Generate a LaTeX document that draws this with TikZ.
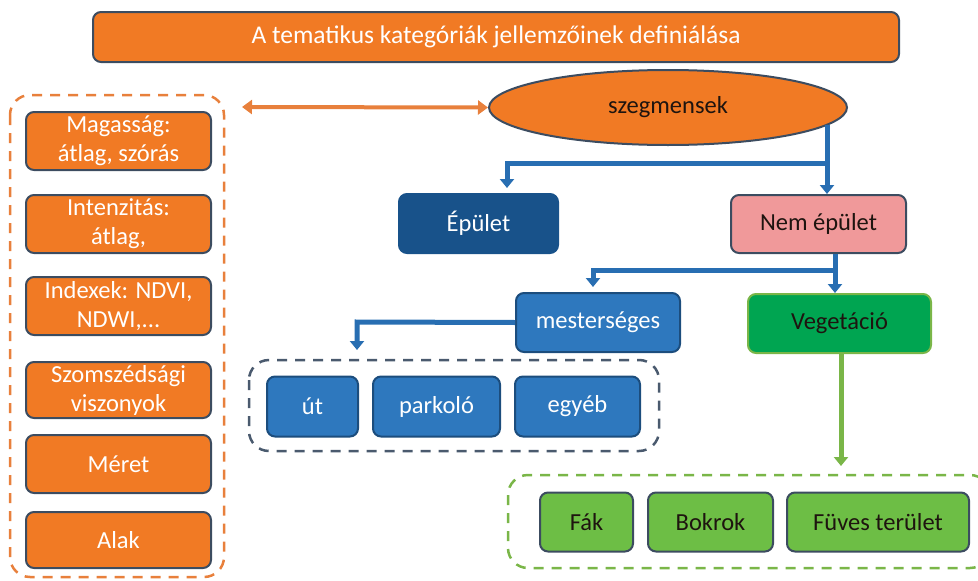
\documentclass[tikz,border=0pt]{standalone}
\usepackage{fontspec}
\setmainfont{Carlito}
\usetikzlibrary{arrows.meta,shapes.geometric}
\definecolor{orng}{RGB}{241,122,36}
\definecolor{orngdash}{RGB}{232,128,60}
\definecolor{slate}{RGB}{60,76,96}
\definecolor{navy}{RGB}{24,82,138}
\definecolor{midblue}{RGB}{46,120,190}
\definecolor{linkblue}{RGB}{40,110,178}
\definecolor{pinkfill}{RGB}{240,153,154}
\definecolor{vegfill}{RGB}{0,165,81}
\definecolor{lgreen}{RGB}{109,190,69}
\definecolor{gdash}{RGB}{122,182,72}
\definecolor{bdash}{RGB}{74,90,110}
\definecolor{darktext}{RGB}{30,20,15}
\begin{document}
\begin{tikzpicture}[x=1pt,y=-1pt,
  every node/.style={font=\fontsize{24.5}{29}\selectfont, align=center, inner sep=0pt},
  box/.style={rectangle, rounded corners=8pt, line width=2pt},
  obox/.style={box, fill=orng, draw=slate, text=white, minimum width=185pt},
  bbox/.style={box, fill=midblue, draw=linkblue!70!black, text=white},
  gbox/.style={box, fill=lgreen, draw=slate, text=darktext},
  link/.style={draw=linkblue, line width=5pt, -{Triangle[width=14pt,length=9pt]}},
  container/.style={dashed, line width=2.5pt, rounded corners=20pt, dash pattern=on 10pt off 8pt}]
\useasboundingbox (0,0) rectangle (978,581);
\clip (0,0) rectangle (978,581);

% title
\node[box, fill=orng, draw=slate, text=white, minimum width=806pt, minimum height=50pt,
  font=\fontsize{25.5}{27}\selectfont] (title) at (496,37) {A tematikus kategóriák jellemzőinek definiálása};

% left container
\draw[container, draw=orngdash] (10,95) rectangle (224,577);
\node[obox, minimum height=58pt] (m1) at (118.5,141) {Magasság:\\átlag, szórás};
\node[obox, minimum height=58pt] (m2) at (118.5,224) {Intenzitás:\\átlag,};
\node[obox, minimum height=58pt] (m3) at (118.5,306) {Indexek: NDVI,\\NDWI,...};
\node[obox, minimum height=56pt] (m4) at (118.5,390) {Szomszédsági\\viszonyok};
\node[obox, minimum height=58pt] (m5) at (118.5,464) {Méret};
\node[obox, minimum height=56pt] (m6) at (118.5,540) {Alak};

% ellipse
\node[ellipse, fill=orng, draw=slate, line width=2pt, minimum width=358pt, minimum height=75pt, text=darktext] (seg) at (668,107.5) {szegmensek};
\coordinate (la) at (242,107);
\draw[draw=orngdash, line width=4pt, {Triangle[width=14pt,length=10pt]}-{Triangle[width=14pt,length=10pt]}] (la) -- (seg.west);

% level 1
\node[box, fill=navy, draw=navy, text=white, minimum width=159pt, minimum height=59pt] (epu) at (478.5,223.5) {Épület};
\node[box, fill=pinkfill, draw=slate, text=darktext, minimum width=175pt, minimum height=58pt] (nem) at (818.5,224) {Nem épület};
\coordinate (s1) at (827,125);
\coordinate (s2) at (827,163);
\draw[link] (s1) -- (nem.north -| s1);
\draw[link] (s2) -- (507,163) -- (507,188);

% level 2
\node[bbox, minimum width=164pt, minimum height=59pt] (mes) at (598,322.5) {mesterséges};
\node[box, fill=vegfill, draw=gdash, text=darktext, minimum width=183pt, minimum height=59pt] (veg) at (839.5,323.5) {Vegetáció};
\coordinate (n1) at (835,270);
\draw[link] (nem.south -| n1) -- (veg.north -| n1);
\draw[link] (n1) -- (593,270) -- (593,287);

% artificial
\draw[container, draw=bdash] (249,360) rectangle (659,451);
\node[bbox, minimum width=91pt, minimum height=60pt] (ut) at (312.5,406.5) {út};
\node[bbox, minimum width=127pt, minimum height=60pt] (park) at (436.5,406.5) {parkoló};
\node[bbox, minimum width=125pt, minimum height=60pt] (egy) at (577.5,406.5) {egyéb};
\draw[link] (mes.west) -- (357,322) -- (357,350);

% vegetation
\draw[container, draw=gdash] (508,475) rectangle (990,568);
\node[gbox, minimum width=93pt, minimum height=59pt] (fak) at (586.5,522) {Fák};
\node[gbox, minimum width=125pt, minimum height=59pt] (bok) at (710.5,522) {Bokrok};
\node[gbox, minimum width=182pt, minimum height=59pt] (fuv) at (878,522) {Füves terület};
\coordinate (gt) at (841,466);
\draw[draw=gdash, line width=5pt, -{Triangle[width=14pt,length=9pt]}] (veg.south -| gt) -- (gt);
\end{tikzpicture}
\end{document}
